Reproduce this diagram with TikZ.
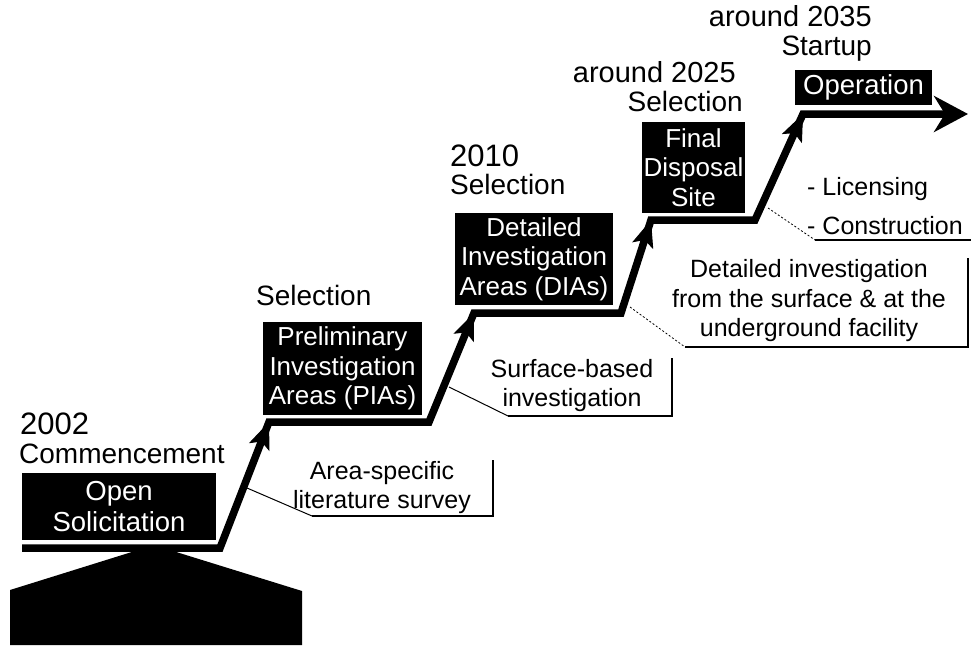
\documentclass[tikz,border=0pt]{standalone}
\usepackage{fontspec}
\setmainfont{Liberation Sans}
\usetikzlibrary{arrows.meta,calc}
\begin{document}
\begin{tikzpicture}[x=1pt,y=-1pt,
  box/.style={fill=black,text=white,inner sep=0pt,align=center,font=\fontsize{26}{29.5}\selectfont},
  lbl/.style={inner sep=0pt,font=\fontsize{28}{30}\selectfont},
  yr/.style={inner sep=0pt,font=\fontsize{31}{32}\selectfont},
  note/.style={inner sep=0pt,align=center,font=\fontsize{25}{29.5}\selectfont},
  bracket/.style={line width=1.6pt},
  leader/.style={line width=1pt},
  dleader/.style={line width=0.8pt,dash pattern=on 2pt off 2pt},
  stair/.style={line width=7.5pt,line join=miter},
  minihead/.style={line width=1pt,-{Stealth[length=27pt,width=22pt,inset=6pt]}}
  ]
\useasboundingbox (0,0) rectangle (971,645);

% pedestal
\fill (135,551) -- (173,551) -- (302,591) -- (302,645) -- (10,645) -- (10,590) -- cycle;

% boxes
\node[box,minimum width=194pt,minimum height=67pt,font=\fontsize{27.5}{31}\selectfont] (open) at (119,506.5) {Open\\Solicitation};
\node[box,minimum width=159pt,minimum height=93pt] (pia) at (342.5,368.5) {Preliminary\\Investigation\\Areas (PIAs)};
\node[box,minimum width=158pt,minimum height=92pt] (dia) at (534,259) {Detailed\\Investigation\\Areas (DIAs)};
\node[box,minimum width=103pt,minimum height=91pt] (fds) at (693.5,167.5) {Final\\Disposal\\Site};
\node[box,minimum width=137pt,minimum height=35pt,font=\fontsize{27.5}{30}\selectfont] (op) at (863.5,87.5) {Operation};

% headings
\node[yr,anchor=base west] (y2002) at (20,434) {2002};
\node[lbl,anchor=base west] (comm) at (19,463) {Commencement};
\node[lbl,anchor=base west] (sel1) at (256,305) {Selection};
\node[yr,anchor=base west] (y2010) at (450,166) {2010};
\node[lbl,anchor=base west] (sel2) at (450,194) {Selection};
\node[lbl,anchor=base east,font=\fontsize{29}{30}\selectfont] (y2025) at (736,82) {around 2025};
\node[lbl,anchor=base east] (sel3) at (743,111) {Selection};
\node[lbl,anchor=base east,font=\fontsize{29}{30}\selectfont] (y2035) at (872,27) {around 2035};
\node[lbl,anchor=base east] (start) at (872,55) {Startup};

% staircase
\coordinate (s0) at (22,548);
\coordinate (s1) at (220,548);
\coordinate (t1) at (269,422);
\coordinate (s2) at (429,422);
\coordinate (t2) at (474,313);
\coordinate (s3) at (621,313);
\coordinate (t3) at (651,220);
\coordinate (s4) at (755,220);
\coordinate (t4) at (803,114);
\coordinate (e) at (968,114);
\draw[stair,-{Stealth[length=34pt,width=36pt,inset=11pt]}]
  (s0) -- (s1) -- (t1) -- (s2) -- (t2) -- (s3) -- (t3) -- (s4) -- (t4) -- (e);
\foreach \a/\b in {s1/t1,s2/t2,s3/t3,s4/t4}
  \draw[minihead] ($(\b)!30pt!(\a)$) -- (\b);

% callout 1
\node[note] (c1) at (382,487.5) {Area-specific\\literature survey};
\coordinate (c1a) at (247,488);
\coordinate (c1b) at (312,516);
\coordinate (c1c) at (493,516);
\coordinate (c1d) at (493,460);
\draw[leader] (c1a) -- (c1b);
\draw[bracket] (c1b) -- (c1c) -- (c1d);

% callout 2
\node[note] (c2) at (572,385.5) {Surface-based\\investigation};
\coordinate (c2a) at (449,387);
\coordinate (c2b) at (508,416);
\coordinate (c2c) at (672,416);
\coordinate (c2d) at (672,358);
\draw[leader] (c2a) -- (c2b);
\draw[bracket] (c2b) -- (c2c) -- (c2d);

% callout 3
\node[note] (c3) at (809,301) {Detailed investigation\\from the surface \& at the\\underground facility};
\coordinate (c3a) at (630,307);
\coordinate (c3b) at (685,347);
\coordinate (c3c) at (968,347);
\coordinate (c3d) at (968,258);
\draw[dleader] (c3a) -- (c3b);
\draw[bracket] (c3b) -- (c3c) -- (c3d);

% callout 4
\node[note,anchor=base west] (c4a) at (807,195) {- Licensing};
\node[note,anchor=base west] (c4b) at (807,234) {- Construction};
\coordinate (c4s) at (768,208);
\coordinate (c4t) at (815,240);
\coordinate (c4u) at (971,240);
\draw[dleader] (c4s) -- (c4t);
\draw[bracket] (c4t) -- (c4u);
\end{tikzpicture}
\end{document}
